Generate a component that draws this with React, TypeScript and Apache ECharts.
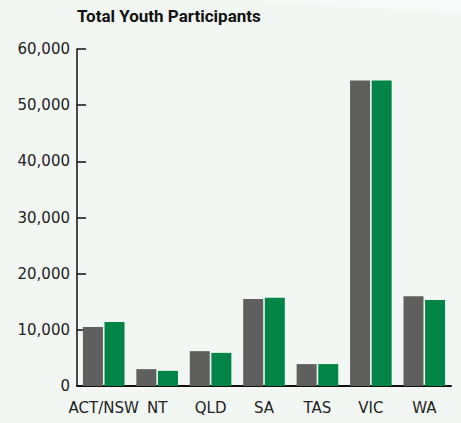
import React, { useEffect, useRef } from "react";
import * as echarts from "echarts";

const categories = ["ACT/NSW", "NT", "QLD", "SA", "TAS", "VIC", "WA"];
const seriesGrey = [10500, 3000, 6200, 15500, 3900, 54400, 16000];
const seriesGreen = [11400, 2700, 5900, 15700, 3900, 54400, 15300];
const yTicks = { min: 0, max: 60000, interval: 10000 };
const title = "Total Youth Participants";

export default function App() {
  const ref = useRef<HTMLDivElement>(null);
  useEffect(() => {
    document.body.style.margin = "0";
    const chart = echarts.init(ref.current!, null, { renderer: "svg" });
    chart.setOption({
      animation: false,
      backgroundColor: "#f2f7f3",
      graphic: [
        {
          type: "polygon",
          silent: true,
          z: -10,
          shape: { points: [[240, 0], [461, 0], [461, 14]] },
          style: { fill: "#f8faf9" },
        },
      ],
      title: {
        text: title,
        left: 72,
        top: 2,
        textStyle: {
          fontFamily: "Roboto",
          fontWeight: "bold",
          fontSize: 17,
          color: "#111",
        },
      },
      grid: { left: 77, right: 10, top: 49, bottom: 37, containLabel: false },
      xAxis: {
        type: "category",
        data: categories,
        axisLine: { lineStyle: { color: "#111", width: 2 } },
        axisTick: { inside: true, length: 7, lineStyle: { color: "#111", width: 1.5 } },
        axisLabel: {
          fontFamily: "DejaVu Sans",
          fontSize: 15,
          color: "#222",
          margin: 14,
          interval: 0,
        },
      },
      yAxis: {
        type: "value",
        min: yTicks.min,
        max: yTicks.max,
        interval: yTicks.interval,
        splitLine: { show: false },
        axisLine: { show: true, lineStyle: { color: "#111", width: 1.5 } },
        axisTick: { show: true, inside: true, length: 9, lineStyle: { color: "#111", width: 1.5 } },
        axisLabel: {
          fontFamily: "DejaVu Sans",
          fontSize: 15,
          color: "#222",
          margin: 7,
          formatter: (v: number) => v.toLocaleString("en-US"),
        },
      },
      series: [
        {
          type: "bar",
          data: seriesGrey,
          barWidth: 20,
          barGap: "8%",
          itemStyle: { color: "#5f5f5d" },
        },
        {
          type: "bar",
          data: seriesGreen,
          barWidth: 20,
          itemStyle: { color: "#008546" },
        },
      ],
    });
    return () => chart.dispose();
  }, []);
  return <div ref={ref} style={{ width: 461, height: 423 }} />;
}
